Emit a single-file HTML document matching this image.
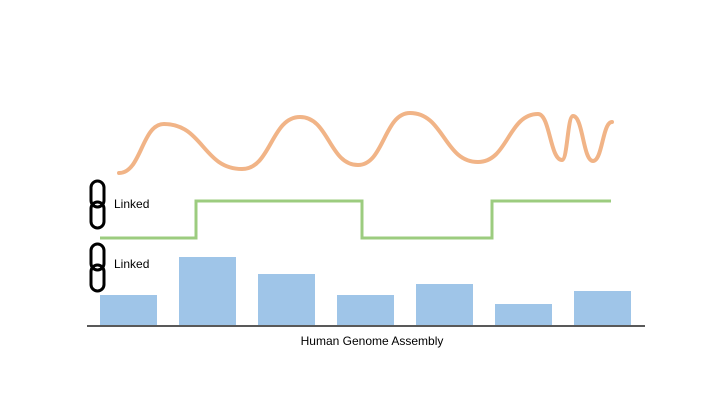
<!DOCTYPE html>
<html><head><meta charset="utf-8"><style>
body{margin:0;background:#fff;width:720px;height:405px;overflow:hidden}
svg{display:block}
text{font-family:"Liberation Sans",sans-serif}
</style></head><body>
<svg width="720" height="405">
<g id="chains"></g>
<path id="wave" fill="none" stroke="#f1b487" stroke-width="4" stroke-linecap="round"/>
<path id="step" fill="none" stroke="#9ccc7f" stroke-width="3"/>
<g id="bars"></g>
<line x1="87" y1="326" x2="645" y2="326" stroke="#222" stroke-width="1.5"/>
<text x="372" y="345" font-size="12" text-anchor="middle">Human Genome Assembly</text>
<text x="114" y="208" font-size="12">Linked</text>
<text x="114" y="268" font-size="12">Linked</text>
</svg>
<script>
const barValues=[30,68,51,30,41,21,34];
const waveX=[119,164,242,300,358,410,478,538,562,573,593,612];
const waveY=[2,51,6,58,10,62,13,61,15,59,14,53];
const stepX=[100,196,362,492,611];
const stepLevels=[0,1,0,1];
const ns="http://www.w3.org/2000/svg";
const baseY=325, yScale=v=>baseY-v;
const bars=document.getElementById('bars');
barValues.forEach((v,i)=>{
  const r=document.createElementNS(ns,'rect');
  const x=100+i*79;
  r.setAttribute('x',x);r.setAttribute('width',57);
  r.setAttribute('y',yScale(v));r.setAttribute('height',v);
  r.setAttribute('fill','#9fc5e8');
  
  
  bars.appendChild(r);
});
const wy=v=>175-v;
let d='M'+waveX[0]+','+wy(waveY[0]);
for(let i=1;i<waveX.length;i++){
  const x0=waveX[i-1],y0=wy(waveY[i-1]),x1=waveX[i],y1=wy(waveY[i]);
  const dx=(x1-x0)/2;
  d+=` C${x0+dx},${y0} ${x1-dx},${y1} ${x1},${y1}`;
}
document.getElementById('wave').setAttribute('d',d);
const sy=l=>l?201:238;
let s='M'+stepX[0]+','+sy(stepLevels[0]);
stepLevels.forEach((l,i)=>{
  if(i>0) s+=` L${stepX[i]},${sy(stepLevels[i-1])} L${stepX[i]},${sy(l)}`;
  s+=` L${stepX[i+1]},${sy(l)}`;
});
document.getElementById('step').setAttribute('d',s);
const chains=document.getElementById('chains');
[181,244].forEach((y,k)=>{
  const g=document.createElementNS(ns,'g');
  
  
  [0,21].forEach(o=>{
    const e=document.createElementNS(ns,'rect');
    e.setAttribute('x',91);e.setAttribute('y',y+o);e.setAttribute('width',13);e.setAttribute('height',26);
    e.setAttribute('rx',6.5);e.setAttribute('fill','none');e.setAttribute('stroke','#000');e.setAttribute('stroke-width',3);
    g.appendChild(e);
  });
  chains.appendChild(g);
});
</script>
</body></html>
